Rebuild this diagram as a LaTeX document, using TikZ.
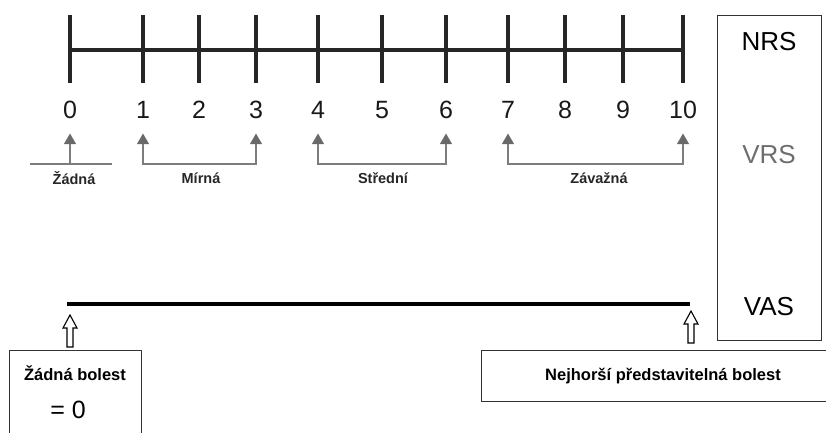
\documentclass[tikz,border=0pt]{standalone}
\usepackage{fontspec}
\setmainfont{Liberation Sans}
\usetikzlibrary{shapes.geometric}
\definecolor{tri}{RGB}{105,105,105}
\definecolor{brk}{RGB}{125,125,125}
\definecolor{vrs}{RGB}{110,110,110}
\begin{document}
\begin{tikzpicture}[x=1pt,y=-1pt,
  tickline/.style={line width=3.2pt,color=black!85},
  num/.style={font=\fontsize{25}{30}\selectfont,text=black!90},
  trimark/.style={regular polygon,regular polygon sides=3,fill=tri,inner sep=0pt,minimum size=14pt},
  brline/.style={line width=1.2pt,color=brk},
  lab/.style={font=\bfseries\fontsize{14.5}{17}\selectfont,text=black!85},
  boxline/.style={draw,line width=1.4pt,color=black!80},
  scalelab/.style={font=\fontsize{26}{30}\selectfont},
  hollow/.style={draw,line width=1.1pt,fill=white,line join=miter}]
\useasboundingbox (0,0) rectangle (826,432);
\clip (0,0) rectangle (826,432);
% numeric rating scale
\foreach \i/\x in {0/70,1/143,2/199,3/256,4/318,5/382,6/446,7/508,8/565,9/623,10/683}{
  \coordinate (a\i) at (\x,50);
  \draw[tickline] (\x,15) -- (\x,83);
  \node[num] (n\i) at (\x,110) {\i};
}
\draw[tickline] (a0) -- (a10);
% triangles
\foreach \i/\x in {0/70,1/143,3/256,4/318,6/446,7/508,10/683}{
  \node[trimark] (tr\i) at (\x,140.5) {};
}
% brackets
\coordinate (zl) at (30,164);
\coordinate (zr) at (112,164);
\draw[brline] (zl) -- (zr);
\draw[brline] (tr0.south) -- (tr0.south |- zl);
\draw[brline] (tr1.south) -- (tr1.south |- zl) -| (tr3.south);
\draw[brline] (tr4.south) -- (tr4.south |- zl) -| (tr6.south);
\draw[brline] (tr7.south) -- (tr7.south |- zl) -| (tr10.south);
\node[lab] (l0) at (74,178) {Žádná};
\node[lab] (l1) at (201,178) {Mírná};
\node[lab] (l2) at (383,178) {Střední};
\node[lab] (l3) at (599,178) {Závažná};
% scales box
\node[boxline,minimum width=104pt,minimum height=325pt,anchor=north west] (sbox) at (717,15) {};
\node[scalelab] (nrs) at (769,42) {NRS};
\node[scalelab,text=vrs] (vrsl) at (769,155) {VRS};
\node[scalelab] (vas) at (769,307) {VAS};
% VAS line
\coordinate (v0) at (67,304);
\coordinate (v1) at (690,304);
\draw[line width=3.2pt] (v0) -- (v1);
% bottom boxes
\node[boxline,minimum width=132pt,minimum height=110pt,anchor=north west] (lbox) at (9,350) {};
\node[font=\bfseries\fontsize{16.5}{20}\selectfont] (lt1) at (75,373) {Žádná bolest};
\node[font=\fontsize{25}{30}\selectfont] (lt2) at (68,410) {= 0};
\node[boxline,minimum width=364pt,minimum height=51pt,anchor=north west] (rbox) at (481,350) {};
\node[font=\bfseries\fontsize{16.5}{20}\selectfont] (rt) at (663,376) {Nejhorší představitelná bolest};
% hollow arrows
\coordinate (ha) at (70,347);
\coordinate (hb) at (691,343);
\draw[hollow] (ha) ++(-3,0) -- ++(0,-19) -- ++(-4,0) -- ++(7,-13) -- ++(7,13) -- ++(-4,0) -- ++(0,19) -- cycle;
\draw[hollow] (hb) ++(-3,0) -- ++(0,-19) -- ++(-4,0) -- ++(7,-13) -- ++(7,13) -- ++(-4,0) -- ++(0,19) -- cycle;
\end{tikzpicture}
\end{document}
